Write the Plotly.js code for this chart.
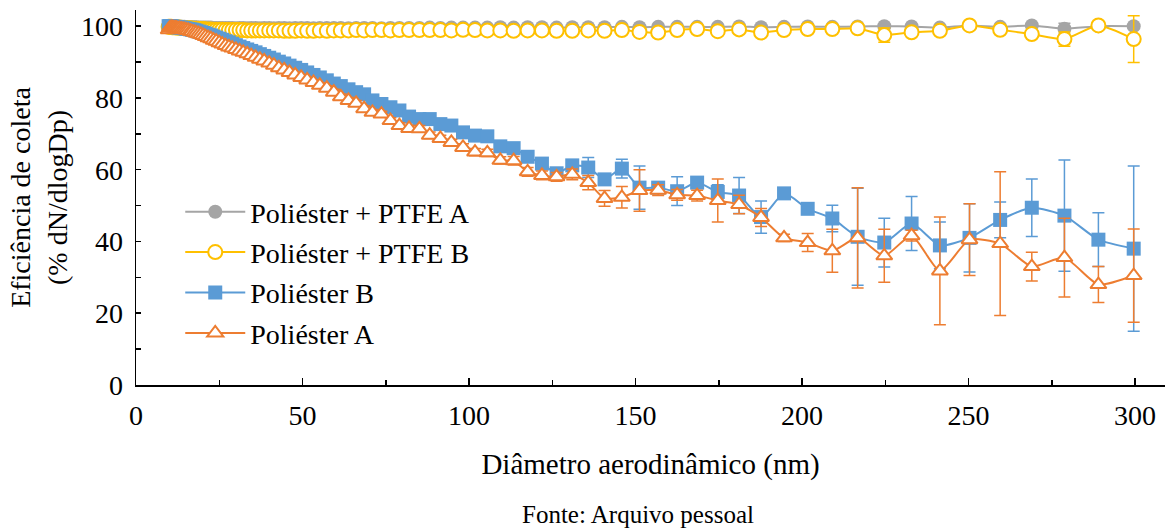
<!DOCTYPE html>
<html>
<head>
<meta charset="utf-8">
<script src="https://cdn.plot.ly/plotly-3.0.1.min.js"></script>
<style>
html,body{margin:0;padding:0;background:#fff;}
#chart{width:1170px;height:531px;}
#chart svg text{font-family:"Liberation Serif","Times New Roman",serif !important;}
</style>
</head>
<body>
<div id="chart"></div>
<script>
// Particle diameter (nm) - SMPS channels
const diam = [
  9.8,10.2,10.6,10.9,11.3,11.8,12.2,12.6,13.1,13.6,
  14.1,14.6,15.1,15.7,16.3,16.8,17.5,18.1,18.8,19.5,
  20.2,20.9,21.7,22.5,23.3,24.1,25.0,25.9,26.9,27.9,
  28.9,30.0,31.1,32.2,33.4,34.6,35.9,37.2,38.5,40.0,
  41.4,42.9,44.5,46.1,47.8,49.6,51.4,53.3,55.2,57.3,
  59.4,61.5,63.8,66.1,68.5,71.0,73.7,76.4,79.1,82.0,
  85.1,88.2,91.4,94.7,98.2,101.8,105.5,109.4,113.4,117.6,
  121.9,126.3,131.0,135.8,140.7,145.9,151.2,156.8,162.5,168.5,
  174.7,181.1,187.7,194.6,201.7,209.1,216.7,224.7,232.9,241.4,
  250.3,259.5,269.0,278.8,289.0,299.6
];

const seriesNames = ["Poliéster + PTFE A", "Poliéster + PTFE B", "Poliéster B", "Poliéster A"];

const ptfeA = [
  99.9,99.9,99.9,99.9,99.9,99.8,99.8,99.8,99.8,99.8,
  99.8,99.8,99.7,99.7,99.7,99.7,99.7,99.7,99.6,99.6,
  99.6,99.6,99.6,99.6,99.5,99.5,99.5,99.5,99.5,99.5,
  99.5,99.4,99.5,99.5,99.4,99.5,99.5,99.4,99.5,99.5,
  99.4,99.5,99.5,99.4,99.5,99.5,99.5,99.4,99.5,99.5,
  99.5,99.5,99.4,99.5,99.5,99.5,99.4,99.5,99.5,99.5,
  99.5,99.6,99.5,99.6,99.6,99.6,99.6,99.7,99.6,99.7,
  99.7,99.6,99.7,99.7,99.7,99.8,99.7,99.8,99.8,99.8,
  99.8,99.9,99.7,99.8,99.9,99.8,99.9,100.0,99.9,99.6,
  100.2,99.8,100.2,99.3,100.0,100.0
];
const ptfeAErr = [
  0.2,0.2,0.2,0.2,0.2,0.2,0.2,0.2,0.2,0.2,
  0.2,0.2,0.2,0.2,0.2,0.2,0.2,0.2,0.2,0.2,
  0.2,0.2,0.2,0.2,0.2,0.2,0.2,0.2,0.2,0.2,
  0.2,0.2,0.2,0.2,0.2,0.2,0.2,0.2,0.2,0.2,
  0.2,0.2,0.2,0.2,0.2,0.2,0.2,0.2,0.2,0.2,
  0.2,0.2,0.2,0.2,0.2,0.2,0.2,0.2,0.2,0.2,
  0.2,0.2,0.2,0.2,0.2,0.2,0.2,0.3,0.3,0.3,
  0.3,0.3,0.3,0.3,0.3,0.3,0.3,0.3,0.3,0.3,
  0.3,0.3,0.3,0.3,0.3,0.3,0.4,0.4,0.4,0.4,
  0.4,0.4,0.4,1.5,0.4,0.4
];

const ptfeB = [
  99.8,99.8,99.8,99.7,99.7,99.7,99.6,99.6,99.6,99.5,
  99.5,99.5,99.4,99.4,99.4,99.3,99.3,99.3,99.2,99.2,
  99.2,99.1,99.1,99.1,99.0,99.0,99.0,99.0,98.9,98.9,
  98.9,98.9,98.9,98.9,98.8,98.8,98.8,98.8,98.8,98.8,
  98.8,98.8,98.7,98.7,98.7,98.8,98.7,98.7,98.8,98.7,
  98.8,98.8,98.8,98.9,98.8,98.9,98.9,98.8,98.9,98.9,
  98.9,98.9,98.9,98.8,99.0,98.9,98.8,98.8,98.7,98.8,
  98.8,98.7,98.7,98.8,98.7,98.9,98.4,98.2,98.9,99.2,
  98.6,99.1,98.2,98.9,99.2,99.2,99.4,97.5,98.3,98.7,
  100.2,99.0,97.8,96.4,100.2,96.4
];
const ptfeBErr = [
  0.2,0.2,0.2,0.2,0.2,0.2,0.2,0.2,0.2,0.2,
  0.2,0.2,0.2,0.2,0.2,0.2,0.2,0.2,0.2,0.2,
  0.2,0.2,0.2,0.2,0.2,0.2,0.2,0.2,0.2,0.2,
  0.2,0.2,0.2,0.2,0.2,0.2,0.2,0.2,0.2,0.2,
  0.2,0.2,0.2,0.2,0.2,0.2,0.2,0.2,0.2,0.2,
  0.3,0.3,0.3,0.3,0.3,0.3,0.3,0.3,0.3,0.3,
  0.3,0.3,0.3,0.3,0.3,0.3,0.3,0.3,0.3,0.3,
  0.4,0.4,0.4,0.4,0.4,0.4,0.4,0.5,0.5,0.5,
  1.0,0.5,0.5,0.5,0.5,0.5,0.5,2.0,0.6,0.6,
  0.6,0.6,0.6,2.0,0.6,6.5
];

const poliB = [
  100.0,100.0,99.9,99.9,99.8,99.8,99.7,99.7,99.6,99.6,
  99.5,99.4,99.3,99.2,99.1,99.0,98.9,98.7,98.5,98.3,
  98.1,97.9,97.6,97.4,97.1,96.8,96.5,96.2,95.8,95.5,
  95.1,94.7,94.3,93.9,93.5,93.1,92.7,92.2,91.7,91.2,
  90.7,90.1,89.6,89.0,88.4,87.8,87.1,86.4,85.7,84.9,
  84.0,83.3,82.4,81.6,81.0,79.3,78.3,77.4,76.5,74.8,
  74.1,74.1,72.7,72.3,70.4,69.5,69.3,66.5,66.0,63.6,
  61.7,59.0,61.2,60.6,57.3,60.3,55.0,55.0,54.0,56.4,
  53.8,52.8,46.8,53.4,49.1,46.4,41.3,39.7,45.0,38.9,
  41.0,46.0,49.4,47.2,40.5,38.0
];
const poliBErr = [
  0.2,0.2,0.2,0.2,0.2,0.2,0.2,0.2,0.2,0.2,
  0.3,0.3,0.3,0.3,0.3,0.3,0.3,0.3,0.3,0.3,
  0.4,0.4,0.4,0.4,0.4,0.4,0.4,0.4,0.4,0.4,
  0.5,0.5,0.5,0.5,0.5,0.5,0.5,0.5,0.5,0.5,
  0.6,0.6,0.6,0.6,0.6,0.6,0.6,0.6,0.6,0.6,
  0.7,0.7,0.7,0.7,0.7,0.7,0.7,0.7,0.7,0.7,
  0.8,0.8,0.8,0.8,0.8,0.9,0.9,0.9,1.0,1.0,
  1.2,1.2,1.5,2.8,1.5,2.6,6.0,1.5,4.0,1.5,
  2.0,5.0,4.5,1.0,1.0,3.7,13.5,6.8,7.5,6.5,
  9.5,5.0,8.0,15.5,7.5,23.0
];

const poliA = [
  99.0,99.5,99.6,99.6,99.5,99.5,99.4,99.3,99.3,99.2,
  99.1,99.0,98.9,98.8,98.6,98.5,98.3,98.1,97.9,97.7,
  97.4,97.1,96.8,96.5,96.1,95.8,95.4,95.0,94.6,94.2,
  93.9,93.5,93.1,92.7,92.3,91.8,91.3,90.8,90.3,89.7,
  89.1,88.4,87.8,87.1,86.4,85.7,85.0,84.3,83.5,82.7,
  81.6,80.3,79.3,78.5,77.0,76.0,75.5,73.7,72.3,71.5,
  71.4,69.6,68.7,67.6,66.2,64.9,64.7,62.6,62.5,59.4,
  58.4,58.0,58.7,56.4,52.0,52.3,54.2,54.3,53.0,52.8,
  51.4,50.3,46.7,41.0,39.7,37.4,41.0,36.0,41.6,31.8,
  40.5,39.4,33.0,35.5,28.0,30.5
];
const poliAErr = [
  0.3,0.3,0.3,0.3,0.3,0.3,0.3,0.3,0.3,0.3,
  0.4,0.4,0.4,0.4,0.4,0.4,0.4,0.4,0.4,0.4,
  0.5,0.5,0.5,0.5,0.5,0.5,0.5,0.5,0.5,0.5,
  0.6,0.6,0.6,0.6,0.6,0.6,0.6,0.6,0.6,0.6,
  0.7,0.7,0.7,0.7,0.7,0.7,0.7,0.7,0.7,0.7,
  0.8,0.8,0.8,0.8,0.8,0.8,0.8,0.8,0.8,0.8,
  0.9,0.9,0.9,0.9,1.0,1.0,1.0,1.0,1.2,1.2,
  1.2,1.2,1.5,2.0,2.2,3.0,5.8,1.5,1.5,1.5,
  6.0,2.6,2.5,1.0,2.5,6.0,14.0,7.4,1.5,15.0,
  10.0,20.0,4.0,11.0,5.0,13.0
];

const colors = ["#A5A5A5", "#FFC000", "#5B9BD5", "#ED7D31"];
const fontFam = "Times New Roman";

function mk(name, y, err, color, marker, grp) {
  return {
    type: "scatter", mode: "lines+markers", name: name, legendgroup: grp,
    x: diam, y: y,
    line: {color: color, width: 2, shape: "spline", smoothing: 0.6},
    marker: marker,
    error_y: {type: "data", array: err, visible: true, color: color, thickness: 1.5, width: 6}
  };
}

const traces = [
  mk(seriesNames[0], ptfeA, ptfeAErr, colors[0], {symbol: "circle", size: 14, color: colors[0], line: {width: 0}}, "g1"),
  mk(seriesNames[1], ptfeB, ptfeBErr, colors[1], {symbol: "circle", size: 14, color: "#FFFFFF", line: {width: 2, color: colors[1]}}, "g2"),
  mk(seriesNames[2], poliB, poliBErr, colors[2], {symbol: "square", size: 14, color: colors[2], line: {width: 0}}, "g3"),
  mk(seriesNames[3], poliA, poliAErr, colors[3], {symbol: "triangle-up", size: 14, color: "#FFFFFF", line: {width: 2, color: colors[3]}}, "g4")
];

const layout = {
  width: 1170, height: 531,
  margin: {l: 136, r: 5, t: 10, b: 146},
  paper_bgcolor: "#fff", plot_bgcolor: "#fff",
  font: {size: 28, color: "#000"},
  showlegend: true,
  legend: {x: 0.043, y: 0.528, xanchor: "left", yanchor: "top", bgcolor: "rgba(0,0,0,0)",
           font: {family: fontFam, size: 28, color: "#000"}, itemwidth: 60, tracegroupgap: 1},
  xaxis: {
    range: [0, 309], dtick: 50, tick0: 0,
    showline: true, linecolor: "#000", linewidth: 1.5, mirror: false,
    showgrid: false, zeroline: false,
    ticks: "inside", ticklen: 7, tickwidth: 1.5, tickcolor: "#000",
    minor: {dtick: 25, ticks: "inside", ticklen: 5, tickwidth: 1.5, tickcolor: "#000", showgrid: false},
    tickfont: {family: fontFam, size: 28, color: "#000"},
    ticklabelstandoff: 5,
    title: {text: "Diâmetro aerodinâmico (nm)", font: {family: fontFam, size: 29, color: "#000"}, standoff: 23}
  },
  yaxis: {
    range: [0, 104.5], dtick: 20, tick0: 0,
    showline: true, linecolor: "#000", linewidth: 1.5,
    showgrid: false, zeroline: false,
    ticks: "inside", ticklen: 5, tickwidth: 1.5, tickcolor: "#000",
    minor: {dtick: 10, ticks: "inside", ticklen: 5, tickwidth: 1.5, tickcolor: "#000", showgrid: false},
    tickfont: {family: fontFam, size: 28, color: "#000"},
    ticklabelstandoff: 6,
    title: {text: "Eficiência de coleta<br>(% dN/dlogDp)", font: {family: fontFam, size: 28, color: "#000"}, standoff: 5}
  },
  annotations: [{
    text: "Fonte: Arquivo pessoal", xref: "paper", yref: "paper",
    x: 0.488, y: -0.346, xanchor: "center", yanchor: "middle", showarrow: false,
    font: {family: fontFam, size: 25, color: "#000"}
  }]
};

Plotly.newPlot("chart", traces, layout, {displayModeBar: false, staticPlot: true});
</script>
</body>
</html>
